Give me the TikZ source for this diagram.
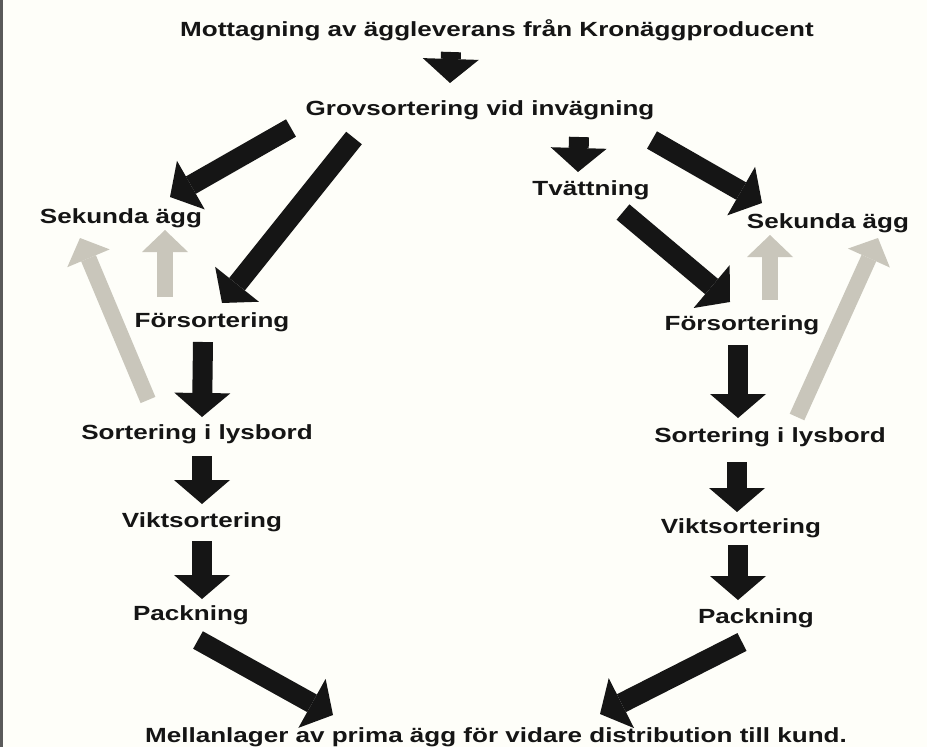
\documentclass[tikz,border=0pt]{standalone}
\usepackage{fontspec}
\setmainfont{Liberation Sans}[FakeStretch=1.27]
\usetikzlibrary{arrows.meta}
\definecolor{paper}{HTML}{FEFEF9}
\definecolor{ink}{HTML}{151515}
\definecolor{reject}{HTML}{C9C6BB}
\definecolor{edge}{HTML}{5A5A5A}

\begin{document}
\begin{tikzpicture}[
  x=1pt,y=-1pt,
  stage/.style={inner sep=0pt,anchor=base,text=ink,font=\fontsize{20.5}{24}\selectfont\bfseries},
  fat/.style={draw=ink,line width=20pt,-{Triangle[length=24pt,width=56pt,line width=0pt]}},
  pale/.style={draw=reject,line width=16pt,-{Triangle[length=22pt,width=46pt,line width=0pt]}}
]
  \useasboundingbox (0,0) rectangle (927,747);
  \fill[paper] (0,0) rectangle (927,747);
  \fill[edge] (0,0) rectangle (3,747);

  \node[stage] (recv) at (497,36) {Mottagning av äggleverans från Kronäggproducent};
  \node[stage] (grov) at (480,115) {Grovsortering vid invägning};
  \node[stage] (sekL) at (121,223) {Sekunda ägg};
  \node[stage] (wash) at (591,195) {Tvättning};
  \node[stage] (sekR) at (828,228) {Sekunda ägg};
  \node[stage] (forL) at (212,327) {Försortering};
  \node[stage] (forR) at (742,330) {Försortering};
  \node[stage] (lysL) at (197,439) {Sortering i lysbord};
  \node[stage] (lysR) at (770,442) {Sortering i lysbord};
  \node[stage] (viktL) at (202,527) {Viktsortering};
  \node[stage] (viktR) at (741,533) {Viktsortering};
  \node[stage] (packL) at (191,620) {Packning};
  \node[stage] (packR) at (756,623) {Packning};
  \node[stage] (store) at (496,742) {Mellanlager av prima ägg för vidare distribution till kund.};

  % rejected eggs
  \draw[pale] ([shift={(-49,-39)}]lysL.base) -- ([shift={(-41,15)}]sekL.base);
  \draw[pale] ([shift={(-47,-30)}]forL.base) -- ([shift={(44,7)}]sekL.base);
  \draw[pale] ([shift={(28,-30)}]forR.base) -- ([shift={(-58,7)}]sekR.base);
  \draw[pale] ([shift={(27,-25)}]lysR.base) -- ([shift={(50,10)}]sekR.base);

  % main flow
  \draw[fat] ([shift={(-46,16)}]recv.base) -- ([shift={(-30,-32)}]grov.base);
  \draw[fat] ([shift={(-189,13)}]grov.base) -- ([shift={(49,-26)}]sekL.base);
  \draw[fat] ([shift={(-126,23)}]grov.base) -- ([shift={(10,-24)}]forL.base);
  \draw[fat] ([shift={(99,22)}]grov.base) -- ([shift={(-13,-23)}]wash.base);
  \draw[fat] ([shift={(172,25)}]grov.base) -- ([shift={(-66,-25)}]sekR.base);
  \draw[fat] ([shift={(32,17)}]wash.base) -- ([shift={(-12,-28)}]forR.base);
  \draw[fat] ([shift={(-9,15)}]forL.base) -- ([shift={(5,-22)}]lysL.base);
  \draw[fat] ([shift={(5,17)}]lysL.base) -- ([shift={(0,-23)}]viktL.base);
  \draw[fat] ([shift={(0,14)}]viktL.base) -- ([shift={(11,-21)}]packL.base);
  \draw[fat] ([shift={(-4,15)}]forR.base) -- ([shift={(-32,-24)}]lysR.base);
  \draw[fat] ([shift={(-33,20)}]lysR.base) -- ([shift={(-4,-21)}]viktR.base);
  \draw[fat] ([shift={(-3,12)}]viktR.base) -- ([shift={(-18,-23)}]packR.base);
  \draw[fat] ([shift={(7,20)}]packL.base) -- ([shift={(-163,-27)}]store.base);
  \draw[fat] ([shift={(-14,19)}]packR.base) -- ([shift={(104,-28)}]store.base);
\end{tikzpicture}
\end{document}
